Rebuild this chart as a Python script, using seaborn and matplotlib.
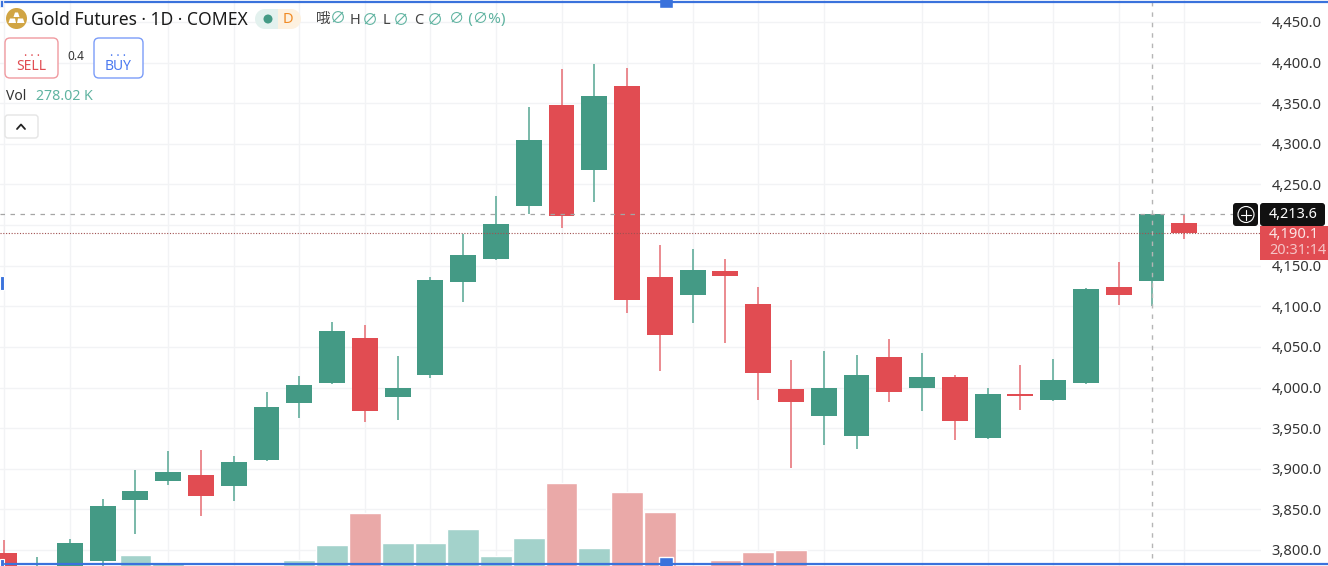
import matplotlib
matplotlib.use("Agg")
import matplotlib.pyplot as plt
from matplotlib.patches import FancyBboxPatch, Polygon, Rectangle, Circle
import pandas as pd
import seaborn as sns

# candles
highs = [3812, 3791, 3814, 3863, 3898, 3922, 3923, 3916, 3994, 4014, 4081, 4077, 4039, 4136, 4189, 4236, 4345, 4392, 4398,
         4393, 4175, 4171, 4158, 4124, 4034, 4045, 4040, 4060, 4043, 4015, 3999, 4028, 4035, 4123, 4155, 4214, 4214]
lows = [3769, 3763, 3769, 3780, 3820, 3880, 3842, 3860, 3910, 3962, 4004, 3958, 3960, 4012, 4105, 4157, 4214, 4196, 4228,
        4092, 4020, 4079, 4055, 3985, 3901, 3929, 3924, 3982, 3971, 3935, 3937, 3972, 3983, 4004, 4102, 4100, 4183]
body_tops = [3796, 3780, 3809, 3854, 3873, 3896, 3892, 3908, 3976, 4003, 4070, 4061, 3999, 4132, 4163, 4201, 4305, 4348, 4359,
             4371, 4136, 4145, 4143, 4103, 3998, 3999, 4015, 4038, 4013, 4013, 3992, 3992, 4009, 4121, 4124, 4214, 4203]
body_bottoms = [3775, 3769, 3775, 3786, 3862, 3885, 3866, 3879, 3911, 3981, 4006, 3971, 3988, 4015, 4130, 4158, 4223, 4211, 4268,
                4108, 4065, 4114, 4137, 4018, 3982, 3965, 3940, 3994, 3999, 3959, 3938, 3990, 3985, 4006, 4114, 4131, 4190]
directions = ["down", "up", "up", "up", "up", "up", "down", "up", "up", "up", "up", "down", "up", "up", "up", "up", "up", "down", "up",
              "down", "down", "up", "down", "down", "down", "up", "up", "down", "up", "down", "up", "down", "up", "up", "down", "up", "down"]
# volume in K, bars are cut by the bottom of the chart
volumes = [200, 190, 210, 230, 313, 292, 250, 260, 270, 298, 343, 439, 349, 349, 391, 310, 364, 529, 334,
           502, 442, 240, 298, 322, 328, 220, 210, 230, 220, 240, 210, 200, 220, 250, 230, 270, 278.02]

price_ticks = [3800, 3850, 3900, 3950, 4000, 4050, 4100, 4150, 4200, 4250, 4300, 4350, 4400, 4450]
grid_days = [0, 2, 5, 7, 9, 11, 13, 15, 17, 19, 21, 23, 25, 28, 30, 32, 34, 36]
last_high = 4213.6
last_price = 4190.1

GREEN = "#449a85"
RED = "#e14c52"
BLUE = "#3a72dc"
VALUE_GREEN = "#5fb3a0"

sns.set_theme(style="white")
plt.rcParams["font.family"] = ["Noto Sans", "Noto Sans CJK SC", "DejaVu Sans"]

df = pd.DataFrame({"day": range(len(volumes)), "volume": volumes, "direction": directions,
                   "high": highs, "low": lows, "top": body_tops, "bottom": body_bottoms})

fig = plt.figure(figsize=(13.28, 5.66), dpi=100, facecolor="white")
ax = fig.add_axes([0, 0, 1261 / 1328, 1])

# volume pane on its own scale
vol_ax = ax.twinx()
sns.barplot(data=df, x="day", y="volume", hue="direction", palette={"up": "#a3d2cb", "down": "#eaa9a8"},
            native_scale=True, dodge=False, width=0.97, saturation=1, legend=False, ax=vol_ax)
vol_ax.set_ylim(280, 1978)
vol_ax.axis("off")

# candles
colors = df["direction"].map({"up": GREEN, "down": RED})
wick_colors = df["direction"].map({"up": "#62ad9b", "down": "#e8777d"})
ax.vlines(df["day"], df["low"], df["high"], colors=wick_colors, linewidth=1.2, zorder=3)
ax.bar(df["day"], df["top"] - df["bottom"], bottom=df["bottom"], width=0.79, color=colors, linewidth=0, zorder=4)

ax.set_xlim(-0.131, 38.34)
ax.set_ylim(3780.3, 4477.08)
ax.set_xticks(grid_days)
ax.set_yticks(price_ticks)
# the 4,200.0 label sits behind the price tags in the reference
ax.set_yticklabels(["" if p == 4200 else f"{p:,.1f}" for p in price_ticks])
ax.yaxis.tick_right()
ax.tick_params(axis="y", length=0, pad=7.5, labelsize=10.6, labelcolor="#333333")
ax.tick_params(axis="x", length=0, labelbottom=False)
ax.grid(True, color="#f2f3f5", linewidth=1)
ax.set_axisbelow(True)
ax.set_ylabel("")
ax.set_xlabel("")
for s in ax.spines.values():
    s.set_visible(False)
ax.set_zorder(vol_ax.get_zorder() - 1)
ax.patch.set_visible(True)
vol_ax.patch.set_visible(False)

# crosshair and last price line
ax.axhline(last_high, color="#a5a5a5", linewidth=0.9, linestyle=(0, (3.6, 4.4)), zorder=5)
ax.axvline(35, color="#b5b5b5", linewidth=1, linestyle=(0, (3.2, 4.3)), zorder=5, ymin=0.015)
ax.axhline(last_price, color="#a05050", linewidth=0.8, linestyle=(0, (1, 1.5)), zorder=5)

# header and widgets, drawn in pixel coordinates
ui = fig.add_axes([0, 0, 1, 1], zorder=10)
ui.set_xlim(0, 1328)
ui.set_ylim(566, 0)
ui.axis("off")
ui.patch.set_visible(False)

ui.add_patch(Circle((16.5, 18.5), 10.5, color="#d1a544", lw=0))
ui.add_patch(Polygon([(13.5, 17), (15, 12.5), (18, 12.5), (19.5, 17)], color="white", lw=0))
ui.add_patch(Polygon([(8.5, 23), (10, 18.5), (15, 18.5), (16, 23)], color="white", lw=0))
ui.add_patch(Polygon([(17, 23), (18, 18.5), (23, 18.5), (24.5, 23)], color="white", lw=0))
ui.text(31, 20, "Gold Futures · 1D · COMEX", fontsize=12.6, color="#1a1a1a", va="center", ha="left")

ui.add_patch(Rectangle((265, 9), 14, 20, color="#e3f1ee", lw=0))
ui.add_patch(Circle((265, 19), 10, color="#e3f1ee", lw=0))
ui.add_patch(Rectangle((278, 9), 13, 20, color="#fdf1e0", lw=0))
ui.add_patch(Circle((291, 19), 10, color="#fdf1e0", lw=0))
ui.add_patch(Circle((268, 19), 4.5, color=GREEN, lw=0))
ui.text(288, 19.5, "D", fontsize=10.5, color="#f08a24", ha="center", va="center")

ui.text(316, 19, "哦", fontsize=10.5, color="#444444", va="center")
ui.text(330, 19, "∅", fontsize=11.5, color=VALUE_GREEN, va="center")
ui.text(350, 20, "H", fontsize=10.5, color="#444444", va="center")
ui.text(362, 21, "∅", fontsize=11.5, color=VALUE_GREEN, va="center")
ui.text(383, 20, "L", fontsize=10.5, color="#444444", va="center")
ui.text(393, 21, "∅", fontsize=11.5, color=VALUE_GREEN, va="center")
ui.text(414, 20, "C", fontsize=10.5, color="#444444", va="center")
ui.text(427, 21, "∅", fontsize=11.5, color=VALUE_GREEN, va="center")
ui.text(449, 19.5, "∅ (∅%)", fontsize=11, color=VALUE_GREEN, va="center")

ui.add_patch(FancyBboxPatch((5, 38), 53, 40, boxstyle="round,pad=0,rounding_size=5", fc="white", ec="#f09aa0", lw=1))
ui.text(31.5, 56.5, ". . .", fontsize=8.5, fontweight="bold", color=RED, ha="center", va="baseline")
ui.text(31.5, 66, "SELL", fontsize=10, color=RED, ha="center", va="center")
ui.text(76, 57, "0.4", fontsize=8.5, color="#333333", ha="center", va="center")
ui.add_patch(FancyBboxPatch((94, 38), 49, 40, boxstyle="round,pad=0,rounding_size=5", fc="white", ec="#7b9cf8", lw=1))
ui.text(118.5, 56.5, ". . .", fontsize=8.5, fontweight="bold", color="#4a78f0", ha="center", va="baseline")
ui.text(118.5, 66, "BUY", fontsize=10, color="#4a78f0", ha="center", va="center")

ui.text(6, 97, "Vol", fontsize=10, color="#333333", va="center")
ui.text(36, 97, "278.02 K", fontsize=10.2, color=VALUE_GREEN, va="center")
ui.add_patch(FancyBboxPatch((5, 115), 33, 23, boxstyle="round,pad=0,rounding_size=3", fc="white", ec="#e5e5e5", lw=1))
ui.plot([17, 21, 25], [129, 124.5, 129], color="#222222", lw=1.3)

# price tags on the right
ui.add_patch(FancyBboxPatch((1233, 203), 25, 23, boxstyle="round,pad=0,rounding_size=3", fc="#111111", ec="none"))
ui.add_patch(Circle((1246, 214.5), 8, fc="none", ec="white", lw=0.8))
ui.plot([1241, 1251], [214.5, 214.5], color="white", lw=0.8)
ui.plot([1246, 1246], [209.5, 219.5], color="white", lw=0.8)
ui.add_patch(Rectangle((1260, 226), 68, 34, color=RED, lw=0))
ui.add_patch(FancyBboxPatch((1260, 203), 65, 23, boxstyle="round,pad=0,rounding_size=3", fc="#111111", ec="none"))
ui.text(1269, 215, f"{last_high:,.1f}", fontsize=10.4, color="white", fontweight="bold", va="center")
ui.text(1269, 234, f"{last_price:,.1f}", fontsize=10.6, color="#fbe3e4", va="center")
ui.text(1269, 250.5, "20:31:14", fontsize=10.4, color="#f5c5c7", va="center")

# selection frame
ui.plot([5, 1328], [1.8, 1.8], color=BLUE, lw=1.6)
ui.plot([5, 1328], [564, 564], color=BLUE, lw=1.6)
for x, y in [(666, 3), (666, 562)]:
    ui.add_patch(Rectangle((x - 7, y - 5), 14, 10, fc=BLUE, ec="white", lw=1))
ui.add_patch(Rectangle((0, 276), 4, 14, fc=BLUE, ec="white", lw=0.8))
ui.add_patch(Rectangle((0, 559), 4, 7, fc=BLUE, ec="white", lw=0.8))
ui.add_patch(Rectangle((0, 0), 3, 7, fc=BLUE, ec="white", lw=0.5))

fig.savefig("out.png", dpi=100, facecolor="white")
